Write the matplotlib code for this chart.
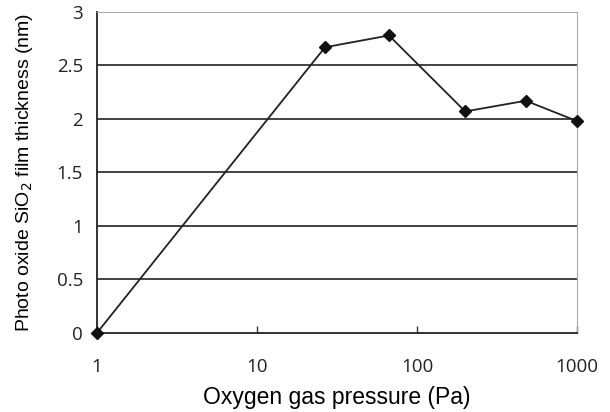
import matplotlib.pyplot as plt
import numpy as np

# data
pressure = [1, 26.6, 66.8, 200, 478, 1000]
thickness = [0.0, 2.67, 2.78, 2.07, 2.17, 1.98]

y_ticks = [0, 0.5, 1, 1.5, 2, 2.5, 3]
y_tick_labels = ['0', '0.5', '1', '1.5', '2', '2.5', '3']
x_ticks = [1, 10, 100, 1000]
x_tick_labels = ['1', '10', '100', '1000']

fig = plt.figure(figsize=(6.1, 4.12), dpi=100)
ax = fig.add_axes([0.159, 0.192, 0.787, 0.779])

for yv in y_ticks[1:-1]:
    ax.axhline(yv, color='#222222', linewidth=1.2, zorder=1)

ax.plot(pressure, thickness, color='#222222', linewidth=1.3,
        marker='D', markersize=6, markerfacecolor='#111111',
        markeredgecolor='#111111', zorder=3, clip_on=False)

ax.set_xscale('log')
ax.set_xlim(1, 1000)
ax.set_ylim(0, 3)

ax.set_xticks(x_ticks)
ax.set_xticklabels(x_tick_labels, fontsize=13.5, family='Open Sans', color='#222222')
ax.xaxis.set_minor_locator(plt.NullLocator())
ax.tick_params(axis='x', direction='in', length=5, width=1, pad=18, color='#333333')

ax.set_yticks(y_ticks)
ax.set_yticklabels(y_tick_labels, fontsize=13.5, family='Open Sans', color='#222222')
ax.tick_params(axis='y', length=0, pad=10)

ax.spines['left'].set_color('#222222')
ax.spines['bottom'].set_color('#222222')
ax.spines['left'].set_linewidth(1.3)
ax.spines['bottom'].set_linewidth(1.3)
ax.spines['top'].set_color('#aaaaaa')
ax.spines['right'].set_color('#aaaaaa')

ax.set_xlabel('Oxygen gas pressure (Pa)', fontsize=16.5, family='Liberation Sans', labelpad=7)
ax.set_ylabel('Photo oxide SiO$_2$ film thickness (nm)', fontsize=14, family='Liberation Sans', labelpad=16)

plt.savefig('out.png', dpi=100)
